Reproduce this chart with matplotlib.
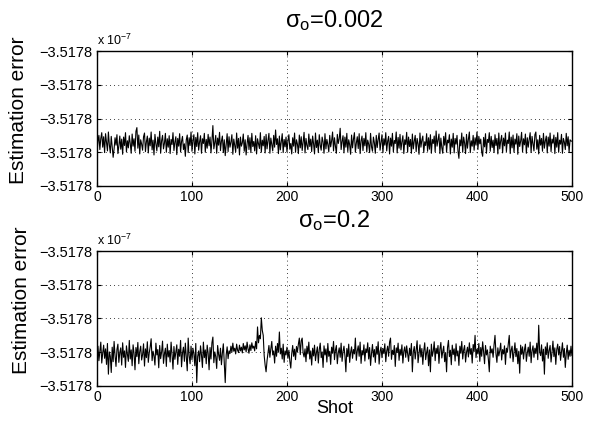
import numpy as np
import matplotlib
matplotlib.use("Agg")
import matplotlib.pyplot as plt

plt.rcParams["font.family"] = ["Liberation Sans", "DejaVu Sans"]
plt.rcParams["mathtext.fontset"] = "custom"
plt.rcParams["mathtext.rm"] = "Liberation Sans"
plt.rcParams["mathtext.it"] = "Liberation Sans:italic"

# estimation error per shot, in hundredths of a y-tick step above the lower axis limit
err_small = [
    100, 132, 150, 108, 141, 158, 115, 146, 99, 155, 128, 104, 160, 122, 98, 147, 117, 85, 110, 143, 121, 152, 96, 118, 148,
    109, 139, 94, 145, 120, 158, 101, 134, 113, 149, 126, 97, 154, 118, 140, 103, 162, 173, 112, 151, 95, 137, 124, 106, 146,
    157, 102, 131, 148, 98, 142, 119, 160, 107, 136, 92, 153, 125, 104, 145, 116, 162, 97, 134, 150, 110, 127, 156, 100, 140,
    115, 149, 96, 138, 123, 158, 105, 130, 146, 93, 141, 118, 155, 101, 132, 147, 108, 125, 88, 137, 151, 99, 143, 120, 160,
    103, 135, 152, 95, 144, 117, 158, 106, 131, 149, 97, 140, 126, 156, 100, 138, 112, 153, 119, 145, 98, 134, 179, 110, 128,
    150, 97, 142, 121, 159, 105, 133, 148, 99, 137, 90, 124, 155, 102, 146, 115, 130, 152, 94, 139, 120, 101, 157, 112, 141,
    92, 145, 118, 128, 154, 103, 137, 92, 125, 150, 108, 143, 99, 156, 117, 132, 104, 149, 95, 140, 126, 111, 158, 100, 136,
    119, 147, 98, 153, 110, 135, 156, 97, 142, 122, 104, 150, 115, 166, 123, 140, 96, 148, 107, 131, 155, 99, 138, 116, 145,
    101, 134, 152, 109, 126, 95, 143, 118, 157, 100, 137, 124, 96, 151, 113, 146, 105, 130, 159, 98, 141, 120, 108, 154, 117,
    139, 102, 148, 125, 95, 157, 114, 136, 99, 152, 121, 106, 145, 131, 97, 155, 110, 138, 123, 101, 150, 116, 134, 160, 104,
    143, 118, 97, 153, 126, 140, 171, 108, 132, 149, 98, 145, 115, 156, 102, 137, 122, 94, 151, 113, 139, 158, 100, 127, 146,
    111, 155, 96, 134, 148, 105, 141, 119, 158, 101, 136, 124, 99, 156, 116, 103, 145, 128, 97, 150, 114, 138, 157, 106, 130,
    152, 99, 140, 121, 158, 104, 133, 147, 95, 142, 118, 156, 101, 135, 126, 160, 98, 144, 112, 153, 107, 131, 149, 96, 137,
    123, 159, 100, 145, 117, 138, 97, 154, 110, 133, 150, 102, 141, 125, 94, 157, 115, 136, 148, 99, 131, 120, 155, 103, 143,
    109, 152, 97, 138, 126, 148, 101, 163, 118, 135, 154, 96, 142, 114, 97, 147, 121, 158, 100, 136, 128, 152, 95, 139, 115,
    156, 98, 141, 124, 150, 104, 82, 137, 119, 157, 100, 145, 127, 96, 153, 112, 139, 160, 99, 134, 118, 150, 106, 143, 121,
    160, 108, 147, 125, 139, 101, 88, 144, 116, 155, 97, 138, 129, 158, 103, 147, 114, 136, 99, 152, 120, 141, 95, 157, 110,
    134, 150, 98, 142, 119, 157, 102, 136, 126, 160, 96, 145, 113, 151, 100, 139, 124, 155, 94, 148, 117, 133, 159, 101, 140,
    122, 154, 97, 143, 115, 138, 158, 99, 147, 126, 104, 152, 160, 109, 137, 95, 150, 121, 141, 103, 156, 112, 134, 148, 98,
    145, 118, 157, 102, 139, 127, 151, 96, 144, 115, 158, 100, 136, 124, 153, 97, 141, 130, 108, 156, 119, 146, 101, 137, 133,
    133,
]

err_large = [
    92, 118, 75, 104, 130, 68, 97, 121, 82, 110, 64, 126, 35, 101, 88, 40, 115, 72, 132, 90, 58, 108, 124, 70, 99,
    113, 62, 128, 85, 104, 55, 119, 94, 73, 135, 80, 107, 60, 122, 96, 48, 114, 87, 129, 66, 102, 118, 77, 93, 125,
    59, 110, 84, 131, 70, 98, 116, 140, 75, 103, 89, 62, 127, 92, 108, 54, 120, 81, 100, 133, 67, 95, 112, 58, 124,
    86, 105, 71, 130, 93, 50, 117, 79, 101, 122, 64, 109, 88, 135, 57, 98, 115, 73, 127, 84, 45, 142, 90, 66, 118,
    78, 112, 95, 60, 126, 10, 88, 104, 72, 119, 91, 55, 130, 84, 107, 66, 121, 97, 48, 114, 80, 128, 145, 69, 101,
    87, 52, 120, 94, 76, 112, 63, 98, 125, 70, 10, 92, 116, 81, 104, 96, 118, 100, 127, 103, 112, 95, 124, 106, 99,
    121, 104, 115, 98, 126, 107, 119, 101, 130, 110, 97, 122, 105, 128, 112, 118, 104, 132, 110, 175, 128, 150, 140, 202, 165,
    150, 90, 62, 42, 75, 98, 120, 85, 110, 132, 92, 104, 68, 118, 88, 126, 100, 160, 95, 112, 80, 124, 70, 104, 92,
    115, 82, 106, 74, 53, 96, 120, 88, 109, 78, 117, 101, 124, 142, 93, 134, 142, 98, 86, 110, 72, 118, 95, 130, 80,
    104, 62, 112, 89, 121, 75, 99, 116, 68, 108, 127, 84, 101, 55, 119, 92, 110, 71, 126, 88, 103, 64, 115, 97, 132,
    78, 106, 120, 66, 98, 113, 85, 127, 73, 102, 118, 90, 42, 111, 87, 124, 70, 100, 116, 82, 108, 95, 142, 76, 104,
    119, 88, 130, 67, 105, 92, 122, 74, 110, 99, 128, 80, 114, 61, 97, 123, 86, 108, 70, 117, 94, 131, 65, 102, 115,
    84, 111, 96, 125, 72, 104, 118, 88, 130, 142, 79, 106, 93, 120, 58, 113, 99, 127, 76, 109, 91, 122, 68, 103, 116,
    85, 119, 97, 73, 112, 90, 126, 42, 101, 117, 80, 108, 134, 69, 95, 122, 86, 111, 64, 104, 128, 78, 99, 115, 60,
    107, 42, 124, 88, 103, 131, 75, 112, 96, 120, 67, 109, 129, 83, 102, 118, 72, 99, 42, 114, 135, 87, 106, 63, 121,
    93, 110, 74, 125, 89, 104, 61, 118, 97, 132, 80, 107, 120, 71, 100, 115, 86, 128, 94, 111, 68, 123, 102, 150, 84,
    109, 95, 126, 73, 114, 88, 131, 101, 66, 120, 92, 107, 79, 42, 118, 98, 110, 85, 122, 150, 96, 70, 113, 89, 104,
    127, 77, 108, 95, 119, 64, 112, 100, 125, 150, 83, 106, 118, 72, 99, 128, 87, 111, 66, 103, 38, 121, 94, 116, 80,
    107, 124, 73, 98, 115, 88, 130, 69, 104, 119, 85, 112, 96, 127, 78, 180, 101, 90, 122, 74, 109, 35, 116, 93, 128,
    82, 105, 120, 71, 99, 133, 87, 113, 64, 108, 124, 92, 117, 76, 102, 128, 85, 111, 55, 96, 121, 79, 106, 88, 118,
    90,
]

titles = ["σ$_\\mathrm{o}$=0.002", "σ$_\\mathrm{o}$=0.2"]
ytick_label = "\u22123.5178"
x_ticks = [0, 100, 200, 300, 400, 500]

fig = plt.figure(figsize=(5.9, 4.36), dpi=100)
ax1 = fig.add_axes([0.1644, 0.5734, 0.805, 0.3096])
ax2 = fig.add_axes([0.1644, 0.1147, 0.805, 0.3096])

# ylabel placement differs a little between the panels in the original
label_coords = [(-0.146, 0.56), (-0.14, 0.635)]

for ax, vals, title, lxy in zip([ax1, ax2], [err_small, err_large], titles, label_coords):
    y = np.array(vals) / 100.0
    x = np.arange(len(y))
    ax.plot(x, y, color="black", linewidth=0.8)
    ax.set_xlim(0, 500)
    ax.set_ylim(0, 4)
    ax.set_xticks(x_ticks)
    ax.set_yticks([0, 1, 2, 3, 4])
    ax.set_yticklabels([ytick_label] * 5)
    ax.tick_params(direction="in", top=True, right=True, length=3, pad=3)
    ax.tick_params(axis="y", labelsize=10.5)
    ax.tick_params(axis="x", labelsize=10)
    ax.grid(True, color="black", linestyle=(0, (1, 4)), linewidth=0.6)
    for sp in ax.spines.values():
        sp.set_linewidth(1.0)
    ax.set_ylabel("Estimation error", fontsize=15)
    ax.yaxis.set_label_coords(*lxy)
    ax.text(0.5, 1.178, title, transform=ax.transAxes, fontsize=17,
            ha="center", va="baseline")
    ax.text(0.0, 1.044, "x 10$^{\\mathrm{\u22127}}$", transform=ax.transAxes,
            fontsize=9, ha="left", va="baseline")

ax2.set_xlabel("Shot", fontsize=13, labelpad=-3)

fig.savefig("out.png", dpi=100)
